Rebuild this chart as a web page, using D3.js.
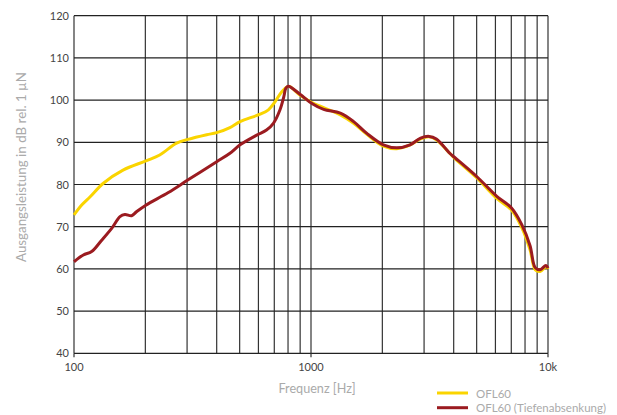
<!DOCTYPE html>
<html>
<head>
<meta charset="utf-8">
<script src="https://cdn.jsdelivr.net/npm/d3@7"></script>
<style>
  body { margin: 0; background: #fff; }
  text { font-family: Lato, 'Open Sans', sans-serif; }
</style>
</head>
<body>
<script>
var width = 617
var height = 415

// OFL60
var yellowFreq = [100, 108, 117, 133, 161, 201, 230, 271, 303, 363, 400, 455, 502, 606, 661, 705, 753, 797, 815, 898, 1009, 1131, 1330, 1513, 1721, 2020, 2300, 2620, 2900, 3150, 3380, 3850, 4040, 5000, 6080, 7000, 7750, 8400, 8830, 9260, 9800, 10000]
var yellowDb = [72.8, 75.2, 77.1, 80.3, 83.4, 85.6, 87, 89.8, 90.7, 91.8, 92.3, 93.5, 94.9, 96.6, 97.7, 99.6, 102, 103.2, 103.2, 101.2, 99.4, 98.2, 96.5, 94.5, 91.9, 89.1, 88.5, 89.4, 90.8, 91.3, 90.6, 87.4, 86.2, 81.6, 76.7, 74, 69.8, 64.5, 59.8, 59.4, 60.5, 60]

// OFL60 (Tiefenabsenkung)
var redFreq = [100, 109.5, 118.7, 130.9, 144.2, 156.3, 164, 175, 184, 201, 250, 303, 400, 455, 502, 590, 649, 694, 740, 768, 783, 802, 898, 1009, 1131, 1330, 1513, 1721, 2020, 2300, 2620, 2900, 3150, 3380, 3850, 4040, 5000, 6080, 7000, 7750, 8400, 8830, 9260, 9800, 10000]
var redDb = [61.7, 63.3, 64.1, 66.8, 69.6, 72.4, 72.9, 72.6, 73.6, 75.1, 78.1, 81.1, 85.4, 87.4, 89.4, 91.7, 92.9, 94.5, 97.7, 100.8, 102.8, 103.3, 101.4, 99.2, 97.8, 96.9, 94.9, 92.1, 89.4, 88.7, 89.4, 91, 91.4, 90.8, 87.4, 86.4, 81.9, 77.2, 74.5, 70.5, 65.5, 60.3, 59.8, 60.8, 60.2]

var xLabels = ['100', '1000', '10k']
var xLabelFreqs = [100, 1000, 10000]
var seriesNames = ['OFL60', 'OFL60 (Tiefenabsenkung)']
var seriesColors = ['#fad400', '#9b1b20']

var x = d3.scaleLog().domain([100, 10000]).range([74, 548])
var y = d3.scaleLinear().domain([40, 120]).range([353.3, 15.7])

var svg = d3.select('body').append('svg')
  .attr('width', width)
  .attr('height', height)

// grid
var grid = svg.append('g')
grid.selectAll('line.v')
  .data(x.ticks())
  .enter().append('line')
  .attr('class', 'v')
  .attr('x1', function (d) { return x(d) })
  .attr('x2', function (d) { return x(d) })
  .attr('y1', y(120))
  .attr('y2', y(40))
  .style('stroke', '#333')
  .style('stroke-width', 1.2)

grid.selectAll('line.h')
  .data(y.ticks(8))
  .enter().append('line')
  .attr('class', 'h')
  .attr('x1', x(100))
  .attr('x2', x(10000))
  .attr('y1', function (d) { return y(d) })
  .attr('y2', function (d) { return y(d) })
  .style('stroke', '#222')
  .style('stroke-width', 1.2)

// small ticks under the decades
grid.selectAll('line.t')
  .data(xLabelFreqs)
  .enter().append('line')
  .attr('x1', function (d) { return x(d) })
  .attr('x2', function (d) { return x(d) })
  .attr('y1', y(40))
  .attr('y2', y(40) + 4)
  .style('stroke', '#333')
  .style('stroke-width', 1.2)

// tick labels
svg.selectAll('text.yl')
  .data(y.ticks(8))
  .enter().append('text')
  .attr('x', 69)
  .attr('y', function (d) { return y(d) + 4 })
  .attr('text-anchor', 'end')
  .style('font-size', '11px')
  .style('fill', '#444')
  .text(function (d) { return d })

svg.selectAll('text.xl')
  .data(xLabels)
  .enter().append('text')
  .attr('x', function (d, i) { return x(xLabelFreqs[i]) })
  .attr('y', 371)
  .attr('text-anchor', 'middle')
  .style('font-size', '11px')
  .style('fill', '#444')
  .text(function (d) { return d })

// axis titles (condensed to the reference widths)
svg.append('text')
  .attr('x', 317)
  .attr('y', 393)
  .attr('text-anchor', 'middle')
  .attr('textLength', 77)
  .attr('lengthAdjust', 'spacingAndGlyphs')
  .style('font-size', '14px')
  .style('fill', '#aaa')
  .text('Frequenz [Hz]')

svg.append('text')
  .attr('transform', 'translate(26,167) rotate(-90)')
  .attr('text-anchor', 'middle')
  .attr('textLength', 190)
  .attr('lengthAdjust', 'spacingAndGlyphs')
  .style('font-size', '14px')
  .style('fill', '#aaa')
  .text('Ausgangsleistung in dB rel. 1 µN')

// curves
var line = d3.line()
  .x(function (d) { return x(d[0]) })
  .y(function (d) { return y(d[1]) })
  .curve(d3.curveCatmullRom.alpha(0.5))

var series = [
  d3.zip(yellowFreq, yellowDb),
  d3.zip(redFreq, redDb)
]

svg.selectAll('path.curve')
  .data(series)
  .enter().append('path')
  .attr('class', 'curve')
  .attr('d', line)
  .style('fill', 'none')
  .style('stroke', function (d, i) { return seriesColors[i] })
  .style('stroke-width', 3)
  .style('stroke-linejoin', 'round')

// legend
var legendWidths = [35, 130]
var legend = svg.selectAll('g.legend')
  .data(seriesNames)
  .enter().append('g')
  .attr('transform', function (d, i) { return 'translate(437,' + (393 + i * 14.7) + ')' })

legend.append('line')
  .attr('x1', 0)
  .attr('x2', 31)
  .style('stroke', function (d, i) { return seriesColors[i] })
  .style('stroke-width', 3)

legend.append('text')
  .attr('x', 39)
  .attr('y', 4.5)
  .attr('textLength', function (d, i) { return legendWidths[i] })
  .attr('lengthAdjust', 'spacingAndGlyphs')
  .style('font-size', '11.5px')
  .style('fill', '#aaa')
  .text(function (d) { return d })
</script>
</body>
</html>
